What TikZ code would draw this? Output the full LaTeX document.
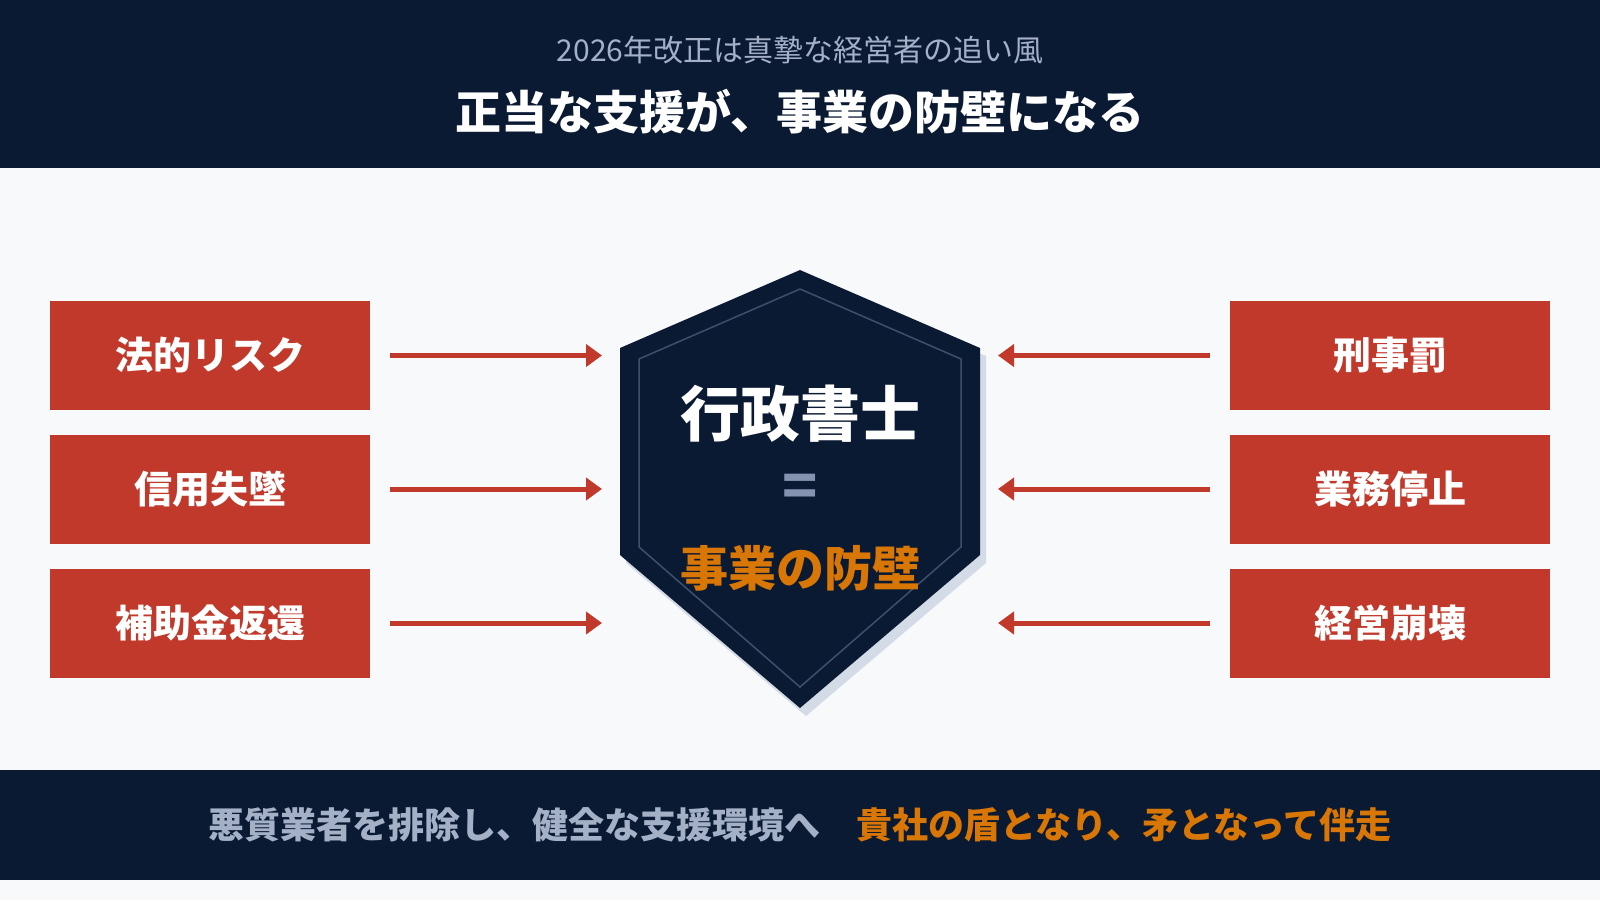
\documentclass[tikz,border=0pt]{standalone}
\usepackage{fontspec}
\setmainfont{Noto Sans CJK JP}
\usetikzlibrary{arrows.meta}
\definecolor{navy}{HTML}{0B1A33}
\definecolor{bgc}{HTML}{F7F9FB}
\definecolor{riskred}{HTML}{C0392B}
\definecolor{subgray}{HTML}{A3B0C6}
\definecolor{amber}{HTML}{D97706}
\definecolor{eqgray}{HTML}{8494B0}
\definecolor{shadowc}{HTML}{D3DBE6}
\definecolor{innerline}{HTML}{3E4F6E}
\begin{document}
\begin{tikzpicture}[x=1pt,y=-1pt,
  riskbox/.style={fill=riskred, draw=none, minimum width=320pt, minimum height=109pt,
    inner sep=0pt, text=white, font=\fontsize{38}{42}\selectfont\bfseries},
  arr/.style={draw=riskred, line width=5pt, -{Triangle[length=16pt,width=22pt]}, shorten <=20pt}]
\useasboundingbox (0,0) rectangle (1600,900);
\fill[bgc] (0,0) rectangle (1600,900);
\fill[navy] (0,0) rectangle (1600,168);
\fill[navy] (0,770) rectangle (1600,880);
% header
\node[text=subgray, font=\fontsize{30}{34}\selectfont] (sub) at (800,50) {2026年改正は真摯な経営者の追い風};
\node[text=white, font=\fontsize{46}{50}\selectfont\bfseries] (title) at (800,112) {正当な支援が、事業の防壁になる};
% shield
\fill[shadowc] (806,278) -- (986,356) -- (986,563) -- (806,716) -- (626,563) -- (626,356) -- cycle;
\fill[navy] (800,270) -- (980,348) -- (980,555) -- (800,708) -- (620,555) -- (620,348) -- cycle;
\draw[innerline, line width=1.5pt] (800,289) -- (961,359) -- (961,547) -- (800,687) -- (639,547) -- (639,359) -- cycle;
\node[text=white, font=\fontsize{60}{64}\selectfont\bfseries] (gyosei) at (800,414) {行政書士};
\node[text=eqgray, font=\fontsize{58}{64}\selectfont\bfseries] (eq) at (800,491) {=};
\node[text=amber, font=\fontsize{48}{52}\selectfont\bfseries] (wall) at (800,568) {事業の防壁};
% left boxes
\node[riskbox] (L1) at (210,355.5) {法的リスク};
\node[riskbox] (L2) at (210,489) {信用失墜};
\node[riskbox] (L3) at (210,623) {補助金返還};
% right boxes
\node[riskbox] (R1) at (1390,355.5) {刑事罰};
\node[riskbox] (R2) at (1390,489) {業務停止};
\node[riskbox] (R3) at (1390,623) {経営崩壊};
% arrow tips
\coordinate (tl1) at (602,355.5);
\coordinate (tl2) at (602,489);
\coordinate (tl3) at (602,623);
\coordinate (tr1) at (998,355.5);
\coordinate (tr2) at (998,489);
\coordinate (tr3) at (998,623);
\draw[arr] (L1.east) -- (tl1);
\draw[arr] (L2.east) -- (tl2);
\draw[arr] (L3.east) -- (tl3);
\draw[arr] (R1.west) -- (tr1);
\draw[arr] (R2.west) -- (tr2);
\draw[arr] (R3.west) -- (tr3);
% footer
\node[font=\fontsize{36}{40}\selectfont\bfseries] (foot) at (800,825)
  {\textcolor{subgray}{悪質業者を排除し、健全な支援環境へ}\hspace{1em}\textcolor{amber}{貴社の盾となり、矛となって伴走}};
\end{tikzpicture}
\end{document}
